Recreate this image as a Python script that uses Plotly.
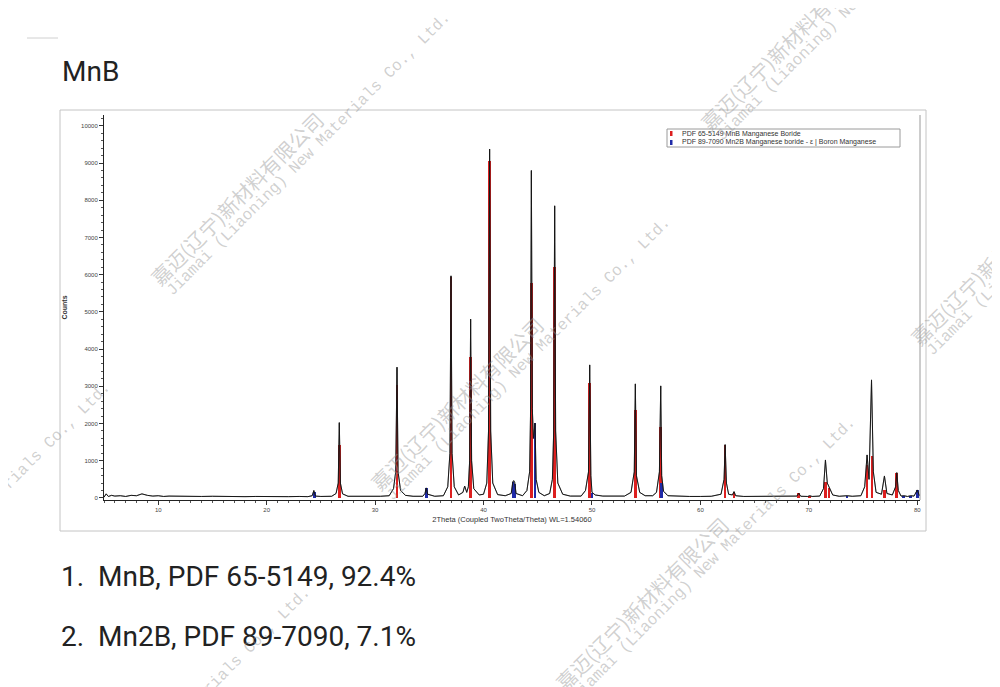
import math
import plotly.graph_objects as go

# ---------------- data ----------------
# measured XRD pattern (2Theta, counts)
scan_2theta = [5.0, 5.2, 5.4, 5.7, 6.0, 6.5, 7.0, 7.5, 8.0, 8.5, 9.0, 9.5, 10.0, 10.5, 11.0, 12.0,
               13.0, 14.0, 15.0, 16.0, 17.0, 18.0, 19.0, 20.0, 21.0, 22.0, 23.0, 23.8, 24.2, 24.35,
               24.5, 25.0, 26.0, 26.4, 26.6, 26.7, 26.8, 27.0, 27.5, 28.5, 29.5, 30.5, 31.3, 31.7,
               31.9, 32.02, 32.12, 32.35, 32.8, 33.5, 34.4, 34.6, 34.72, 34.85, 35.5, 36.3, 36.7,
               36.9, 37.0, 37.1, 37.3, 37.7, 38.1, 38.26, 38.45, 38.6, 38.72, 38.81, 38.9, 39.1,
               39.6, 40.0, 40.3, 40.46, 40.56, 40.66, 40.85, 41.3, 42.0, 42.55, 42.7, 42.78, 42.87,
               43.0, 43.6, 44.0, 44.25, 44.33, 44.41, 44.5, 44.6, 44.75, 44.85, 45.1, 45.6, 46.1,
               46.35, 46.47, 46.56, 46.65, 46.85, 47.3, 48.0, 49.0, 49.4, 49.68, 49.79, 49.9, 50.0,
               50.3, 51.0, 52.0, 53.0, 53.6, 53.9, 54.0, 54.1, 54.4, 54.9, 55.6, 55.95, 56.22, 56.34,
               56.43, 56.6, 57.0, 58.0, 59.0, 60.0, 61.0, 61.9, 62.18, 62.28, 62.4, 62.6, 62.95,
               63.1, 63.25, 64.0, 65.0, 66.0, 67.0, 68.0, 68.9, 69.07, 69.25, 69.9, 70.08, 70.3,
               71.0, 71.35, 71.53, 71.7, 71.9, 72.2, 72.8, 73.53, 74.0, 74.8, 75.15, 75.37, 75.55,
               75.78, 75.95, 76.2, 76.7, 76.97, 77.2, 77.7, 78.0, 78.11, 78.25, 78.5, 78.76, 79.1,
               79.4, 79.7, 80.0, 80.2]
scan_counts = [20, 110, 40, 70, 50, 60, 40, 70, 60, 110, 70, 50, 60, 40, 50, 40,
               50, 40, 45, 35, 40, 35, 40, 35, 40, 35, 40, 35, 60, 200,
               50, 40, 45, 120, 400, 2024, 400, 110, 45, 40, 45, 45, 60, 250,
               700, 3513, 700, 200, 70, 45, 45, 120, 270, 100, 45, 60, 300,
               1200, 5968, 1200, 300, 80, 150, 320, 150, 300, 1000, 4804, 1000, 250,
               80, 100, 400, 1800, 9374, 1800, 400, 90, 60, 120, 430, 465, 420,
               120, 60, 200, 700, 2200, 8798, 2400, 1600, 2008, 500, 150, 60, 120,
               500, 1800, 7849, 1800, 400, 100, 50, 50, 200, 700, 3575, 600, 150,
               80, 50, 45, 50, 150, 700, 3065, 600, 150, 60, 60, 150, 700, 3011,
               600, 180, 60, 40, 40, 40, 45, 100, 500, 1433, 400, 100, 80,
               170, 60, 40, 40, 40, 45, 45, 50, 126, 45, 40, 60, 40,
               50, 250, 1021, 400, 280, 80, 45, 60, 45, 60, 300, 1156, 500,
               3172, 700, 150, 100, 591, 120, 80, 300, 680, 200, 50, 60, 40,
               60, 50, 215, 60]

# reference sticks: PDF 65-5149 MnB
mnb_2theta = [26.7, 32.02, 37.0, 38.81, 40.56, 44.41, 46.56, 49.79, 54.0, 56.34, 62.28, 63.1,
              69.07, 70.08, 71.53, 71.85, 75.37, 75.82, 76.97, 78.11]
mnb_counts = [1425, 3038, 5950, 3798, 9067, 5771, 6202, 3083, 2366, 1917, 1430, 170,
              126, 60, 430, 270, 887, 1129, 215, 680]

# reference sticks: PDF 89-7090 Mn2B
mn2b_2theta = [24.4, 34.72, 42.72, 42.85, 44.75, 50.0, 56.43, 73.53, 78.76, 79.4, 80.0]
mn2b_counts = [170, 270, 420, 380, 2008, 120, 400, 60, 50, 50, 215]

x_ticks = [10, 20, 30, 40, 50, 60, 70, 80]
y_ticks = [0, 1000, 2000, 3000, 4000, 5000, 6000, 7000, 8000, 9000, 10000]

title_text = "MnB"
legend_names = ["PDF 65-5149 MnB Manganese Boride",
                "PDF 89-7090 Mn2B Manganese boride - ε | Boron Manganese"]
result_items = [("1.", "MnB, PDF 65-5149, 92.4%"), ("2.", "Mn2B, PDF 89-7090, 7.1%")]
x_title = "2Theta (Coupled TwoTheta/Theta) WL=1.54060"
y_title = "Counts"
wm_cn = "嘉迈(辽宁)新材料有限公司"
wm_en = "Jiamai (Liaoning) New Materials Co., Ltd."

# ---------------- figure ----------------
# the page body has an 8px margin, so the figure is drawn 8px in from the corner
OFFS = 8
W, H = 1000 - OFFS, 687 - OFFS
def PX(x):
    return (x - OFFS) / W
def PY(y):
    return 1 - (y - OFFS) / H

RED = "#dc1f1f"
BLUE = "#1f2aa8"

fig = go.Figure()
fig.add_trace(go.Scatter(x=scan_2theta, y=scan_counts, mode="lines",
                         line=dict(color="#1a1a1a", width=1), showlegend=False,
                         hoverinfo="skip"))
fig.add_trace(go.Bar(x=mnb_2theta, y=mnb_counts, width=0.25, marker=dict(color=RED, line=dict(width=0)),
                     showlegend=False, name=legend_names[0]))
fig.add_trace(go.Bar(x=mn2b_2theta, y=mn2b_counts, width=0.25, marker=dict(color=BLUE, line=dict(width=0)),
                     showlegend=False, name=legend_names[1]))
# redraw the scan thinly on top so peak outlines stay visible
fig.add_trace(go.Scatter(x=scan_2theta, y=scan_counts, mode="lines",
                         line=dict(color="rgba(20,20,20,0.55)", width=0.8), showlegend=False,
                         hoverinfo="skip"))

annotations = []
shapes = []

# outer screenshot frame
shapes.append(dict(type="rect", xref="paper", yref="paper",
                   x0=PX(60), x1=PX(926), y0=PY(531), y1=PY(110),
                   line=dict(color="#c4c4c4", width=1), layer="below"))
# small line top-left
shapes.append(dict(type="line", xref="paper", yref="paper",
                   x0=PX(27), x1=PX(58), y0=PY(38), y1=PY(38),
                   line=dict(color="#d0d0d0", width=1)))
# right edge of plot
shapes.append(dict(type="line", xref="paper", yref="paper",
                   x0=PX(920), x1=PX(920), y0=PY(500), y1=PY(115),
                   line=dict(color="#9a9a9a", width=1)))

# legend box
shapes.append(dict(type="rect", xref="paper", yref="paper",
                   x0=PX(667), x1=PX(900), y0=PY(147), y1=PY(129),
                   line=dict(color="#9a9a9a", width=1), fillcolor="white"))
for i, (nm, col) in enumerate(zip(legend_names, [RED, BLUE])):
    yc = 133.5 + 9 * i
    shapes.append(dict(type="rect", xref="paper", yref="paper",
                       x0=PX(670), x1=PX(672.5), y0=PY(yc + 2.5), y1=PY(yc - 2.5),
                       line=dict(width=0), fillcolor=col))
    annotations.append(dict(text=nm, xref="paper", yref="paper", x=PX(680), y=PY(yc),
                            xanchor="left", yanchor="middle", showarrow=False,
                            font=dict(family="Liberation Sans", size=7, color="#333")))

# title
annotations.append(dict(text=title_text, xref="paper", yref="paper", x=PX(60), y=PY(71),
                        xanchor="left", yanchor="middle", showarrow=False,
                        font=dict(family="Roboto", size=28, color="#222")))
# result list
for i, (num, txt) in enumerate(result_items):
    yc = 576 + 60 * i
    annotations.append(dict(text=num, xref="paper", yref="paper", x=PX(59), y=PY(yc),
                            xanchor="left", yanchor="middle", showarrow=False,
                            font=dict(family="Roboto", size=28, color="#222")))
    annotations.append(dict(text=txt, xref="paper", yref="paper", x=PX(96), y=PY(yc),
                            xanchor="left", yanchor="middle", showarrow=False,
                            font=dict(family="Roboto", size=28, color="#222")))

# watermarks (tiled, rotated)
ang = 45.0
ux, uy = math.cos(math.radians(ang)), -math.sin(math.radians(ang))
nx, ny = math.sin(math.radians(ang)), math.cos(math.radians(ang))
LC, LE, OFF = 245, 410, 20
wm_starts = [(150, 285), (370, 490), (700, 130), (910, 345), (-190, 655), (555, 690), (10, 860)]
for sx, sy in wm_starts:
    cx, cy = sx + ux * LC / 2, sy + uy * LC / 2
    annotations.append(dict(text=wm_cn, xref="paper", yref="paper", x=PX(cx), y=PY(cy),
                            xanchor="center", yanchor="middle", showarrow=False, textangle=-ang,
                            font=dict(family="Noto Sans CJK SC", size=20, color="rgba(150,150,150,0.45)")))
    ex, ey = sx + nx * OFF + ux * LE / 2, sy + ny * OFF + uy * LE / 2
    annotations.append(dict(text=wm_en, xref="paper", yref="paper", x=PX(ex), y=PY(ey),
                            xanchor="center", yanchor="middle", showarrow=False, textangle=-ang,
                            font=dict(family="Liberation Mono", size=16, color="rgba(150,150,150,0.45)")))

fig.update_layout(
    width=W, height=H, margin=dict(l=0, r=0, t=0, b=0),
    paper_bgcolor="white", plot_bgcolor="white",
    barmode="overlay", bargap=0, showlegend=False,
    annotations=annotations, shapes=shapes,
    xaxis=dict(domain=[PX(104), PX(920)], range=[5, 80.25], tickmode="array",
               tickvals=x_ticks, ticktext=[str(v) for v in x_ticks],
               ticks="outside", ticklen=4, tickcolor="#333", showgrid=False, zeroline=False,
               showline=True, linecolor="#222", linewidth=1,
               tickfont=dict(family="Liberation Sans", size=6, color="#444"),
               minor=dict(dtick=1, ticks="outside", ticklen=2, tickcolor="#555"),
               title=dict(text=x_title, font=dict(family="Liberation Sans", size=7.5, color="#333"),
                          standoff=4)),
    yaxis=dict(domain=[PY(500), PY(115)], range=[-55, 10290], tickmode="array",
               tickvals=y_ticks, ticktext=[str(v) for v in y_ticks],
               ticks="outside", ticklen=4, tickcolor="#333", showgrid=False, zeroline=False,
               showline=True, linecolor="#222", linewidth=1,
               tickfont=dict(family="Liberation Sans", size=6, color="#444"),
               minor=dict(dtick=200, ticks="outside", ticklen=2, tickcolor="#555"),
               title=dict(text="<b>" + y_title + "</b>",
                          font=dict(family="Liberation Sans", size=7, color="#333"), standoff=12)),
)

fig.write_html("out.html")
